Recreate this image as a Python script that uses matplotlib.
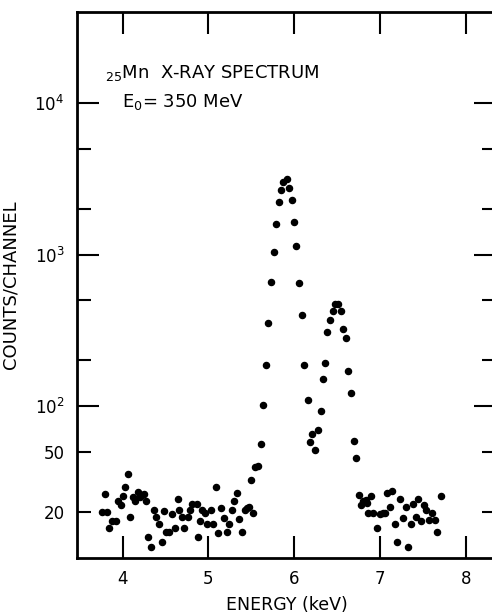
#!/usr/bin/env python3
# Mn X-ray spectrum, counts per channel vs energy (log scale)
import matplotlib
matplotlib.use("Agg")
import matplotlib.pyplot as plt
from matplotlib.ticker import FixedLocator, FixedFormatter, NullLocator

#==============================================================================
# Data
#==============================================================================
energy = [3.762, 3.794, 3.823, 3.843, 3.881, 3.928, 3.951, 3.978, 4.000, 4.033,
          4.062, 4.082, 4.120, 4.146, 4.175, 4.202, 4.225, 4.248, 4.268, 4.300,
          4.330, 4.361, 4.392, 4.425, 4.460, 4.481, 4.502, 4.540, 4.571, 4.610,
          4.641, 4.662, 4.697, 4.718, 4.758, 4.784, 4.804, 4.862, 4.881, 4.897,
          4.924, 4.962, 4.988, 5.027, 5.056, 5.087, 5.108, 5.143, 5.178, 5.212,
          5.239, 5.270, 5.301, 5.332, 5.359, 5.387, 5.425, 5.452, 5.476, 5.493,
          5.516, 5.542, 5.579, 5.608, 5.639, 5.670, 5.691, 5.728, 5.763, 5.790,
          5.825, 5.845, 5.872, 5.911, 5.942, 5.970, 5.997, 6.023, 6.058, 6.090,
          6.117, 6.156, 6.183, 6.210, 6.241, 6.274, 6.305, 6.338, 6.358, 6.385,
          6.420, 6.451, 6.469, 6.506, 6.544, 6.562, 6.603, 6.629, 6.661, 6.696,
          6.721, 6.749, 6.772, 6.801, 6.830, 6.847, 6.862, 6.890, 6.921, 6.966,
          6.995, 7.028, 7.057, 7.077, 7.113, 7.135, 7.174, 7.199, 7.232, 7.263,
          7.300, 7.323, 7.357, 7.383, 7.415, 7.439, 7.477, 7.506, 7.535, 7.568,
          7.599, 7.634, 7.660, 7.704]

counts = [20.0, 26.2, 20.0, 15.6, 17.5, 17.3, 23.5, 22.2, 25.4, 29.0,
          35.5, 18.5, 24.9, 23.5, 27.2, 25.1, 25.9, 26.2, 23.4, 13.7,
          11.7, 20.5, 18.6, 16.5, 12.6, 20.3, 14.6, 14.7, 19.4, 15.7,
          24.4, 20.5, 18.5, 15.6, 18.5, 20.6, 22.6, 22.5, 13.7, 17.5,
          20.5, 19.5, 16.5, 20.5, 16.5, 29.3, 14.4, 21.3, 18.3, 14.7,
          16.5, 20.5, 23.5, 26.4, 17.8, 14.7, 20.5, 21.3, 21.6, 32.2,
          19.6, 39.6, 40.1, 55.7, 101.6, 186, 355, 655, 1045, 1594,
          2238, 2674, 3034, 3147, 2769, 2297, 1631, 1146, 653, 397,
          186, 109, 58.2, 65.7, 51.4, 69.1, 93.1, 150, 192, 307,
          368, 426, 470, 474, 424, 324, 280, 169, 121, 59.0,
          45.3, 25.9, 22.3, 23.4, 23.9, 22.7, 19.5, 25.4, 19.5, 15.7,
          19.4, 19.5, 19.6, 26.8, 21.5, 27.4, 16.7, 12.6, 24.3, 18.3,
          21.5, 11.7, 16.7, 22.4, 18.6, 24.2, 17.5, 22.2, 20.4, 17.6,
          19.5, 17.6, 14.6, 25.4]

x_ticks = [4, 5, 6, 7, 8]
y_major = [1e2, 1e3, 1e4]
y_major_labels = [r"$10^{2}$", r"$10^{3}$", r"$10^{4}$"]
y_minor = [20, 50, 200, 500, 2000, 5000]
y_minor_labels = ["20", "50", "", "", "", ""]

#==============================================================================
# Plot
#==============================================================================
fig = plt.figure(figsize=(4.92, 6.15), dpi=100, facecolor="w")
# right frame edge sits just past the picture border, as in the original
ax = fig.add_axes([0.1565, 0.0927, 0.852, 0.8878])

ax.plot(energy, counts, "o", color="black", ms=4.4, ls="none")

ax.set_yscale("log")
ax.set_xlim(3.47, 8.35)
ax.set_ylim(9.9, 4.0e4)

ax.set_xticks(x_ticks)
ax.set_xticklabels([str(t) for t in x_ticks])
ax.xaxis.set_minor_locator(NullLocator())
ax.yaxis.set_major_locator(FixedLocator(y_major))
ax.yaxis.set_major_formatter(FixedFormatter(y_major_labels))
ax.yaxis.set_minor_locator(FixedLocator(y_minor))
ax.yaxis.set_minor_formatter(FixedFormatter(y_minor_labels))

ax.tick_params(which="both", direction="in", top=True, right=True,
               width=1.5, labelsize=12, color="black")
ax.tick_params(which="major", length=16, pad=9)
ax.tick_params(which="minor", length=10, pad=9)

for sp in ax.spines.values():
    sp.set_linewidth(2)

ax.set_ylabel("COUNTS/CHANNEL", size=13)
ax.yaxis.set_label_coords(-0.137, 0.5)
ax.set_xlabel("ENERGY (keV)", size=12.5, va="center")
ax.xaxis.set_label_coords(0.5, -0.087)

ax.text(0.066, 0.879, r"$_{25}$Mn  X-RAY SPECTRUM", transform=ax.transAxes,
        size=13, va="baseline", ha="left")
ax.text(0.107, 0.826, r"E$_{0}$= 350 MeV", transform=ax.transAxes,
        size=13, va="baseline", ha="left")

plt.savefig("out.png", dpi=100)
plt.close()
